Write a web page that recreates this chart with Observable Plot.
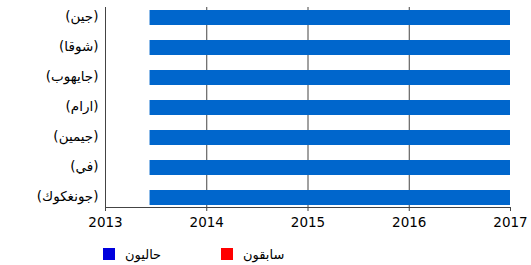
<!DOCTYPE html>
<html>
<head>
<meta charset="utf-8">
<script src="https://cdn.jsdelivr.net/npm/d3@7"></script>
<script src="https://cdn.jsdelivr.net/npm/@observablehq/plot@0.6"></script>
<style>
  html, body { margin: 0; padding: 0; background: #fff; }
  #wrap { position: relative; width: 531px; height: 265px; font-family: "DejaVu Sans", sans-serif; }
  .leg { position: absolute; top: 247px; height: 14px; display: flex; align-items: center; font-size: 13px; color: #000; }
  .sw { width: 12px; height: 12px; display: inline-block; margin-right: 10px; }
</style>
</head>
<body>
<div id="wrap"></div>
<script>
const members = ["(جين)", "(شوقا)", "(جايهوب)", "(ارام)", "(جيمين)", "(في)", "(جونغكوك)"];
const starts = [2013.44, 2013.44, 2013.44, 2013.44, 2013.44, 2013.44, 2013.44];
const ends = [2017, 2017, 2017, 2017, 2017, 2017, 2017];
const years = [2013, 2014, 2015, 2016, 2017];
const gridYears = [2014, 2015, 2016];
const legendLabels = ["حاليون", "سابقون"];
const legendColors = ["#0000dd", "#ff0000"];

const rows = members.map((m, i) => ({member: m, start: starts[i], end: ends[i]}));

const chart = Plot.plot({
  width: 531,
  height: 232,
  marginLeft: 105,
  marginRight: 21,
  marginTop: 7,
  marginBottom: 25,
  style: {fontFamily: "DejaVu Sans, sans-serif", fontSize: "13px", background: "#fff", color: "#000"},
  x: {domain: [2013, 2017], label: null},
  y: {domain: members, paddingInner: 0.5, paddingOuter: 0, label: null},
  marks: [
    Plot.ruleX(gridYears, {stroke: "#444", strokeWidth: 1}),
    Plot.barX(rows, {y: "member", x1: "start", x2: "end", fill: "#0066cc"}),
    Plot.frame({anchor: "left", stroke: "#444"}),
    Plot.frame({anchor: "bottom", stroke: "#444"}),
    Plot.axisX({ticks: years, tickFormat: d => String(d), tickSize: 4, tickPadding: 6, stroke: "#444", fill: "#000", fontSize: 13.5, label: null}),
    Plot.axisY({tickSize: 0, tickPadding: 7, fill: "#000", fontSize: 13.5, dy: -1, label: null})
  ]
});

const wrap = document.getElementById("wrap");
wrap.appendChild(chart);

const legLeft = [103, 221];
legendLabels.forEach((lab, i) => {
  const d = document.createElement("div");
  d.className = "leg";
  d.style.left = legLeft[i] + "px";
  const sw = document.createElement("span");
  sw.className = "sw";
  sw.style.background = legendColors[i];
  const t = document.createElement("span");
  t.textContent = lab;
  d.appendChild(sw);
  d.appendChild(t);
  wrap.appendChild(d);
});
</script>
</body>
</html>
